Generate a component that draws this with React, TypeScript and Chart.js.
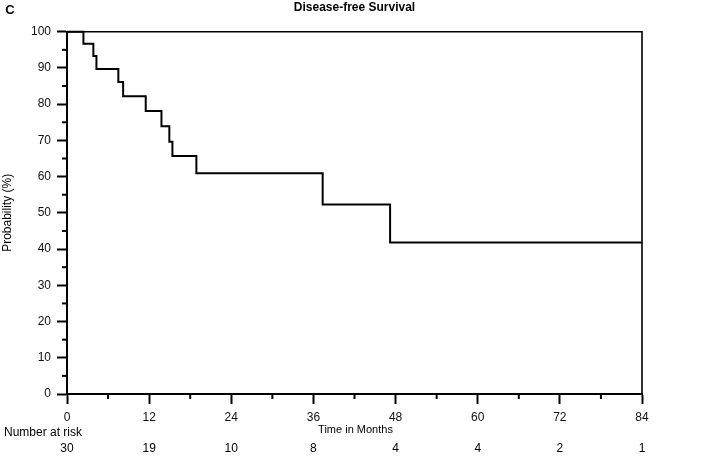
import React, { useEffect, useRef } from "react";
import { Chart, registerables } from "chart.js";

Chart.register(...registerables);

const panelLetter = "C";
const chartTitle = "Disease-free Survival";
const xAxisTitle = "Time in Months";
const yAxisTitle = "Probability (%)";
const riskLabel = "Number at risk";

// Kaplan-Meier step points (time in months, survival %)
const eventTimes = [0, 2.4, 3.85, 4.3, 7.5, 8.2, 11.5, 13.8, 14.95, 15.4, 18.9, 37.35, 47.2, 84];
const survival = [100, 96.7, 93.3, 89.7, 86.1, 82.2, 78.1, 73.9, 69.6, 65.7, 60.9, 52.3, 41.8, 41.8];

const riskTimes = [0, 12, 24, 36, 48, 60, 72, 84];
const riskCounts = [30, 19, 10, 8, 4, 4, 2, 1];

const xMin = 0;
const xMax = 84;
const xMajorStep = 12;
const xMinorStep = 6;
const yMin = 0;
const yMax = 100;
const yMajorStep = 10;
const yMinorStep = 5;

const FONT = "'Liberation Sans', Arial, sans-serif";

const annotationsPlugin = {
  id: "kmAnnotations",
  afterDraw(chart: any) {
    const ctx = chart.ctx;
    const xs = chart.scales.x;
    const ys = chart.scales.y;
    const area = chart.chartArea;
    ctx.save();
    ctx.strokeStyle = "#000";
    ctx.fillStyle = "#000";

    // frame top and right
    ctx.lineWidth = 1.6;
    ctx.beginPath();
    ctx.moveTo(area.left, area.top);
    ctx.lineTo(area.right, area.top);
    ctx.lineTo(area.right, area.bottom);
    ctx.stroke();

    // minor ticks
    ctx.lineWidth = 2;
    for (let v = xMin + xMinorStep; v < xMax; v += xMajorStep) {
      const px = xs.getPixelForValue(v);
      ctx.beginPath();
      ctx.moveTo(px, area.bottom);
      ctx.lineTo(px, area.bottom + 5);
      ctx.stroke();
    }
    for (let v = yMin + yMinorStep; v < yMax; v += yMajorStep) {
      const py = ys.getPixelForValue(v);
      ctx.beginPath();
      ctx.moveTo(area.left, py);
      ctx.lineTo(area.left - 5, py);
      ctx.stroke();
    }

    // panel letter
    ctx.font = `bold 13px ${FONT}`;
    ctx.textAlign = "center";
    ctx.textBaseline = "middle";
    ctx.fillText(panelLetter, 10, 10);

    // title
    ctx.font = `bold 12px ${FONT}`;
    ctx.fillText(chartTitle, (xs.getPixelForValue(xMin) + xs.getPixelForValue(xMax)) / 2, 7.5);

    // x axis title
    ctx.font = `11px 'Liberation Sans Narrow', 'Arial Narrow', ${FONT}`;
    ctx.fillText(xAxisTitle, 355.5, 430);

    // y axis title
    ctx.font = `12px ${FONT}`;
    ctx.save();
    ctx.translate(8, (area.top + area.bottom) / 2);
    ctx.rotate(-Math.PI / 2);
    ctx.fillText(yAxisTitle, 0, 0);
    ctx.restore();

    // number at risk
    ctx.textAlign = "left";
    ctx.fillText(riskLabel, 4, 433);
    ctx.textAlign = "center";
    riskTimes.forEach((t, i) => {
      ctx.fillText(String(riskCounts[i]), xs.getPixelForValue(t), 449);
    });

    ctx.restore();
  },
};

export default function App() {
  const canvasRef = useRef<HTMLCanvasElement | null>(null);

  useEffect(() => {
    document.body.style.margin = "0";
    const canvas = canvasRef.current;
    if (!canvas) return;
    const chart = new Chart(canvas, {
      type: "line",
      data: {
        datasets: [
          {
            data: eventTimes.map((t, i) => ({ x: t, y: survival[i] })),
            stepped: "before",
            borderColor: "#000",
            borderWidth: 2,
            pointRadius: 0,
            fill: false,
            clip: 4,
          } as any,
        ],
      },
      options: {
        animation: false,
        responsive: false,
        devicePixelRatio: 1,
        layout: { padding: { top: 31.7, right: 66, left: 0, bottom: 0 } },
        plugins: {
          legend: { display: false },
          tooltip: { enabled: false },
          title: { display: false },
        },
        scales: {
          x: {
            type: "linear",
            min: xMin,
            max: xMax,
            afterFit: (s: any) => {
              s.height = 62;
            },
            border: { display: true, color: "#000", width: 2 },
            grid: {
              drawOnChartArea: false,
              drawTicks: true,
              tickLength: 10,
              tickColor: "#000",
              tickWidth: 2,
            },
            ticks: {
              stepSize: xMajorStep,
              color: "#111",
              padding: 6,
              maxRotation: 0,
              font: { family: FONT, size: 12 },
            },
          },
          y: {
            type: "linear",
            min: yMin,
            max: yMax,
            afterFit: (s: any) => {
              s.width = 67;
            },
            border: { display: true, color: "#000", width: 2 },
            grid: {
              drawOnChartArea: false,
              drawTicks: true,
              tickLength: 10,
              tickColor: "#000",
              tickWidth: 2,
            },
            ticks: {
              stepSize: yMajorStep,
              color: "#111",
              padding: 6,
              font: { family: FONT, size: 12 },
            },
          },
        },
      },
      plugins: [annotationsPlugin],
    });
    return () => chart.destroy();
  }, []);

  return (
    <div style={{ width: 708, height: 456, background: "#fff" }}>
      <canvas ref={canvasRef} width={708} height={456} style={{ display: "block" }} />
    </div>
  );
}
